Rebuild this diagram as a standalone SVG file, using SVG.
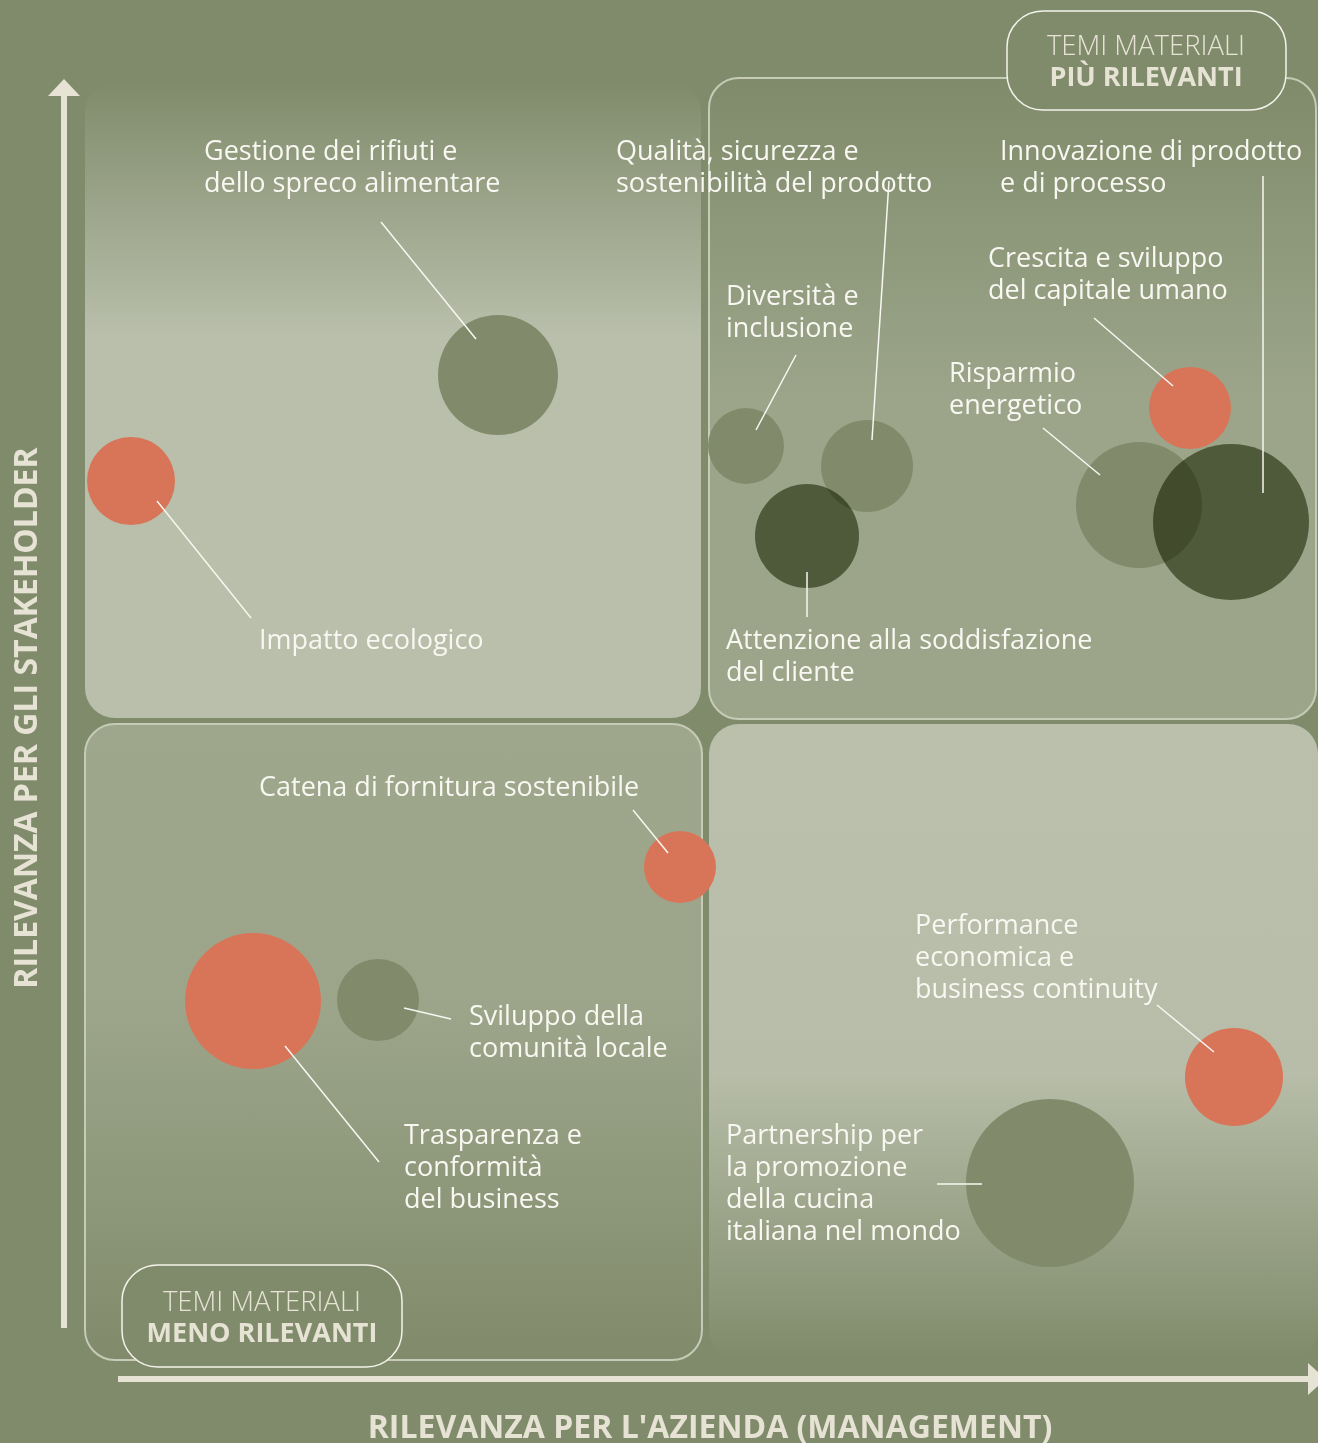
<svg xmlns="http://www.w3.org/2000/svg" width="1318" height="1443" viewBox="0 0 1318 1443">
<style>
.lbl{font-family:"Open Sans","Noto Sans","DejaVu Sans",sans-serif;font-size:27px;fill:#f8f7f1}
.ax{font-family:"Open Sans","Noto Sans","DejaVu Sans",sans-serif;font-size:32px;font-weight:700;fill:#e6e3d5}
.tag1{font-family:"Open Sans","Noto Sans","DejaVu Sans",sans-serif;font-size:27.5px;font-weight:300;fill:#e6e3d5}
.tag2{font-family:"Open Sans","Noto Sans","DejaVu Sans",sans-serif;font-size:27px;font-weight:700;fill:#e6e3d5}
.lead{stroke:#f8f7f1;stroke-width:1.5;fill:none}
.org{fill:#d87558}
.mid{fill:#818b6b}
.dark{fill:#818b6b;mix-blend-mode:multiply}
.qs{stroke:#c6cbb6;stroke-width:2}
.tagbox{fill:#808b6b;stroke:#f4f3ea;stroke-width:1.5}
</style>
<defs>
<linearGradient id="gTL" x1="0" y1="0" x2="0" y2="1">
<stop offset="0" stop-color="#808b6b"/>
<stop offset="0.4" stop-color="#b9bfab"/>
<stop offset="1" stop-color="#b9bfab"/>
</linearGradient>
<linearGradient id="gTR" x1="0" y1="0" x2="0" y2="1">
<stop offset="0" stop-color="#808b6b"/>
<stop offset="0.5" stop-color="#9ca58a"/>
<stop offset="1" stop-color="#9ca58a"/>
</linearGradient>
<linearGradient id="gBL" x1="0" y1="0" x2="0" y2="1">
<stop offset="0" stop-color="#9ea78c"/>
<stop offset="0.45" stop-color="#9ca58a"/>
<stop offset="1" stop-color="#818b6b"/>
</linearGradient>
<linearGradient id="gBR" x1="0" y1="0" x2="0" y2="1">
<stop offset="0" stop-color="#bac0ac"/>
<stop offset="0.55" stop-color="#b7bda8"/>
<stop offset="1" stop-color="#808b6b"/>
</linearGradient>
</defs>
<rect x="0" y="0" width="1318" height="1443" fill="#808b6b"/>

<g id="quadrants">
<rect id="q-tl" x="85" y="82" width="616" height="636" rx="30" fill="url(#gTL)"/>
<rect id="q-tr" x="709" y="78" width="607" height="641" rx="30" fill="url(#gTR)" class="qs"/>
<rect id="q-bl" x="85" y="724" width="617" height="636" rx="30" fill="url(#gBL)" class="qs"/>
<rect id="q-br" x="709" y="724" width="609" height="636" rx="30" fill="url(#gBR)"/>
</g>

<g id="axes">
<rect x="61" y="94" width="6" height="1234" fill="#e6e3d5"/>
<polygon points="64,79 48,96 80,96" fill="#e6e3d5"/>
<rect x="118" y="1376" width="1192" height="6" fill="#e6e3d5"/>
<polygon points="1308,1363 1308,1395 1326,1379" fill="#e6e3d5"/>
<text class="ax" transform="translate(37,718) rotate(-90)" text-anchor="middle">RILEVANZA PER GLI STAKEHOLDER</text>
<text class="ax" x="710" y="1438" text-anchor="middle">RILEVANZA PER L'AZIENDA (MANAGEMENT)</text>
</g>

<g id="tag-piu">
<rect class="tagbox" x="1007" y="11" width="279" height="99" rx="36"/>
<text class="tag1" x="1146" y="55" text-anchor="middle">TEMI MATERIALI</text>
<text class="tag2" x="1146" y="86" text-anchor="middle">PIÙ RILEVANTI</text>
</g>
<g id="tag-meno">
<rect class="tagbox" x="122" y="1265" width="280" height="102" rx="36"/>
<text class="tag1" x="262" y="1311" text-anchor="middle">TEMI MATERIALI</text>
<text class="tag2" x="262" y="1342" text-anchor="middle">MENO RILEVANTI</text>
</g>

<g id="bubbles">
<circle id="b-gestione" class="mid" cx="498" cy="375" r="60"/>
<circle id="b-impatto" class="org" cx="131" cy="481" r="44"/>
<circle id="b-diversita" class="mid" cx="746" cy="446" r="38"/>
<circle id="b-qualita" class="mid" cx="867" cy="466" r="46"/>
<circle id="b-attenzione" class="dark" cx="807" cy="536" r="52"/>
<circle id="b-crescita" class="org" cx="1190" cy="408" r="41"/>
<circle id="b-risparmio" class="mid" cx="1139" cy="505" r="63"/>
<circle id="b-innovazione" class="dark" cx="1231" cy="522" r="78"/>
<circle id="b-catena" class="org" cx="680" cy="867" r="36"/>
<circle id="b-trasparenza" class="org" cx="253" cy="1001" r="68"/>
<circle id="b-sviluppo" class="mid" cx="378" cy="1000" r="41"/>
<circle id="b-performance" class="org" cx="1234" cy="1077" r="49"/>
<circle id="b-partnership" class="mid" cx="1050" cy="1183" r="84"/>
</g>

<g id="connectors">
<line class="lead" x1="381" y1="222" x2="476" y2="339"/>
<line class="lead" x1="889" y1="181" x2="872" y2="440"/>
<line class="lead" x1="1263" y1="176" x2="1263" y2="493"/>
<line class="lead" x1="1094" y1="318" x2="1173" y2="386"/>
<line class="lead" x1="1043" y1="428" x2="1100" y2="475"/>
<line class="lead" x1="796" y1="355" x2="756" y2="430"/>
<line class="lead" x1="807" y1="572" x2="807" y2="617"/>
<line class="lead" x1="157" y1="501" x2="251" y2="618"/>
<line class="lead" x1="633" y1="810" x2="668" y2="853"/>
<line class="lead" x1="404" y1="1008" x2="451" y2="1019"/>
<line class="lead" x1="285" y1="1046" x2="379" y2="1162"/>
<line class="lead" x1="1157" y1="1005" x2="1214" y2="1052"/>
<line class="lead" x1="937" y1="1184" x2="982" y2="1184"/>
</g>

<g id="labels">
<text id="t-gestione" class="lbl" x="204" y="160"><tspan x="204">Gestione dei rifiuti e</tspan><tspan x="204" dy="32">dello spreco alimentare</tspan></text>
<text id="t-qualita" class="lbl" x="616" y="160"><tspan x="616">Qualità, sicurezza e</tspan><tspan x="616" dy="32">sostenibilità del prodotto</tspan></text>
<text id="t-innovazione" class="lbl" x="1000" y="160"><tspan x="1000">Innovazione di prodotto</tspan><tspan x="1000" dy="32">e di processo</tspan></text>
<text id="t-crescita" class="lbl" x="988" y="267"><tspan x="988">Crescita e sviluppo</tspan><tspan x="988" dy="32">del capitale umano</tspan></text>
<text id="t-diversita" class="lbl" x="726" y="305"><tspan x="726">Diversità e</tspan><tspan x="726" dy="32">inclusione</tspan></text>
<text id="t-risparmio" class="lbl" x="949" y="382"><tspan x="949">Risparmio</tspan><tspan x="949" dy="32">energetico</tspan></text>
<text id="t-impatto" class="lbl" x="259" y="649">Impatto ecologico</text>
<text id="t-attenzione" class="lbl" x="726" y="649"><tspan x="726">Attenzione alla soddisfazione</tspan><tspan x="726" dy="32">del cliente</tspan></text>
<text id="t-catena" class="lbl" x="259" y="796">Catena di fornitura sostenibile</text>
<text id="t-performance" class="lbl" x="915" y="934"><tspan x="915">Performance</tspan><tspan x="915" dy="32">economica e</tspan><tspan x="915" dy="32">business continuity</tspan></text>
<text id="t-sviluppo" class="lbl" x="469" y="1025"><tspan x="469">Sviluppo della</tspan><tspan x="469" dy="32">comunità locale</tspan></text>
<text id="t-trasparenza" class="lbl" x="404" y="1144"><tspan x="404">Trasparenza e</tspan><tspan x="404" dy="32">conformità</tspan><tspan x="404" dy="32">del business</tspan></text>
<text id="t-partnership" class="lbl" x="726" y="1144"><tspan x="726">Partnership per</tspan><tspan x="726" dy="32">la promozione</tspan><tspan x="726" dy="32">della cucina</tspan><tspan x="726" dy="32">italiana nel mondo</tspan></text>
</g>
</svg>
